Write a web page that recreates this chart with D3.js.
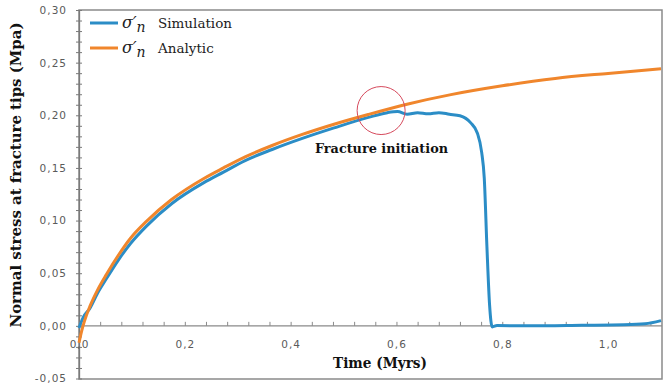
<!DOCTYPE html>
<html><head><meta charset="utf-8">
<script src="https://cdn.jsdelivr.net/npm/d3@7"></script>
<style>
html,body{margin:0;padding:0;background:#fff;}
svg{display:block;}
</style></head>
<body><svg id="c" width="670" height="385"></svg>
<script>
// ---- data ----
const analyticTime = [0, 0.005, 0.01, 0.021, 0.035, 0.052, 0.075, 0.097, 0.128, 0.175, 0.236, 0.273, 0.314, 0.365, 0.422, 0.482, 0.547, 0.62, 0.703, 0.8, 0.9, 1.0, 1.1];
const analyticStress = [-0.016, -0.005, 0.004, 0.019, 0.034, 0.049, 0.0675, 0.083, 0.0995, 0.12, 0.14, 0.15, 0.1605, 0.1713, 0.1818, 0.1915, 0.2008, 0.2105, 0.2196, 0.228, 0.235, 0.2398, 0.2442];
const simTime = [0, 0.008, 0.021, 0.035, 0.052, 0.075, 0.097, 0.128, 0.175, 0.236, 0.273, 0.314, 0.365, 0.422, 0.482, 0.547, 0.583, 0.602, 0.62, 0.64, 0.66, 0.68, 0.70, 0.72, 0.74, 0.753, 0.761, 0.766, 0.771, 0.776, 0.781, 0.79, 0.85, 0.95, 1.03, 1.07, 1.1];
const simStress = [-0.002, 0.008, 0.017, 0.031, 0.045, 0.063, 0.078, 0.095, 0.116, 0.136, 0.146, 0.157, 0.1675, 0.178, 0.188, 0.198, 0.2025, 0.2035, 0.201, 0.2025, 0.2015, 0.2025, 0.201, 0.1995, 0.193, 0.183, 0.165, 0.14, 0.075, 0.02, -0.001, 0.0003, 0.0, 0.0005, 0.001, 0.002, 0.005];
const xTicks = [0, 0.2, 0.4, 0.6, 0.8, 1.0];
const xTickLabels = ["0,0", "0,2", "0,4", "0,6", "0,8", "1,0"];
const xMinorTicks = [0.04,0.08,0.12,0.16,0.24,0.28,0.32,0.36,0.44,0.48,0.52,0.56,0.64,0.68,0.72,0.76,0.84,0.88,0.92,0.96,1.04,1.08];
const yTicks = [-0.05, 0, 0.05, 0.10, 0.15, 0.20, 0.25, 0.30];
const yTickLabels = ["-0,05", "0,00", "0,05", "0,10", "0,15", "0,20", "0,25", "0,30"];
const yMinorTicks = [-0.04,-0.03,-0.02,-0.01,0.01,0.02,0.03,0.04,0.06,0.07,0.08,0.09,0.11,0.12,0.13,0.14,0.16,0.17,0.18,0.19,0.21,0.22,0.23,0.24,0.26,0.27,0.28,0.29];
const seriesNames = ["Simulation", "Analytic"];
const annotation = "Fracture initiation";
const annotationPoint = [0.571, 0.2045];

// ---- layout ----
const svg = d3.select("#c");
const L = 79, R = 662, T = 10, B = 379;
const x = d3.scaleLinear().domain([0, 1.1]).range([L, 661]);
const y = d3.scaleLinear().domain([-0.05, 0.30]).range([378.5, 10]);
const blue = "#2b8dc6", orange = "#f0862c", grey = "#8a8a8a", labCol = "#5a5a5a";

// frame
svg.append("rect").attr("x", L).attr("y", T).attr("width", R - L).attr("height", B - T)
  .attr("fill", "none").attr("stroke", grey).attr("stroke-width", 1.5);

// y axis
const yLab = {}; yTicks.forEach((v, i) => yLab[v] = yTickLabels[i]);
const gy = svg.append("g").attr("transform", `translate(${L},0)`)
  .call(d3.axisLeft(y).tickValues(yTicks).tickSizeInner(3).tickSizeOuter(0).tickPadding(9).tickFormat(d => yLab[d]));
gy.select(".domain").attr("stroke", "#7a7a7a").attr("stroke-width", 1.3);
gy.selectAll(".tick line").attr("stroke", "#7a7a7a");
gy.selectAll(".tick text").attr("fill", labCol).style("font-family", "DejaVu Sans, sans-serif").style("font-size", "10.5px").style("letter-spacing", "1px");
const gyIn = svg.append("g").attr("transform", `translate(${L},0)`)
  .call(d3.axisLeft(y).tickValues(yTicks.concat(yMinorTicks)).tickSizeInner(-3).tickSizeOuter(0).tickFormat(""));
gyIn.select(".domain").remove();
gyIn.selectAll(".tick line").attr("stroke", "#7a7a7a");
const gyOut = svg.append("g").attr("transform", `translate(${L},0)`)
  .call(d3.axisLeft(y).tickValues(yMinorTicks).tickSizeInner(3).tickSizeOuter(0).tickFormat(""));
gyOut.select(".domain").remove();
gyOut.selectAll(".tick line").attr("stroke", "#7a7a7a");

// x axis at y=0
const xLab = {}; xTicks.forEach((v, i) => xLab[v] = xTickLabels[i]);
const gx = svg.append("g").attr("transform", `translate(0,${y(0)})`)
  .call(d3.axisBottom(x).tickValues(xTicks.concat(xMinorTicks)).tickSizeInner(-4).tickSizeOuter(0).tickPadding(15)
    .tickFormat(d => xLab[d] !== undefined ? xLab[d] : ""));
gx.select(".domain").attr("stroke", "#8a8a8a").attr("stroke-width", 1.2).attr("d", `M${L},0H${R}`);
gx.selectAll(".tick line").attr("stroke", "#8a8a8a");
gx.selectAll(".tick text").attr("fill", labCol).style("font-family", "DejaVu Sans, sans-serif").style("font-size", "10.5px").style("letter-spacing", "1px");

// lines
const line = d3.line().x(d => x(d[0])).y(d => y(d[1])).curve(d3.curveMonotoneX);
const aData = analyticTime.map((t, i) => [t, analyticStress[i]]);
const sData = simTime.map((t, i) => [t, simStress[i]]);
svg.append("path").datum(sData).attr("d", line).attr("fill", "none").attr("stroke", blue).attr("stroke-width", 3).attr("stroke-linejoin", "round");
svg.append("path").datum(aData).attr("d", line).attr("fill", "none").attr("stroke", orange).attr("stroke-width", 3).attr("stroke-linejoin", "round");

// annotation
svg.append("circle").attr("cx", x(annotationPoint[0])).attr("cy", y(annotationPoint[1])).attr("r", 24)
  .attr("fill", "none").attr("stroke", "#d6495c").attr("stroke-width", 1);
svg.append("text").attr("x", 315).attr("y", 153).text(annotation)
  .style("font-family", "DejaVu Serif, serif").style("font-weight", "bold").style("font-size", "13px").attr("fill", "#111")
  .attr("textLength", 133).attr("lengthAdjust", "spacingAndGlyphs");

// legend
const leg = svg.append("g");
[blue, orange].forEach((c, i) => {
  const yy = 23 + i * 25;
  leg.append("line").attr("x1", 90).attr("x2", 118).attr("y1", yy).attr("y2", yy).attr("stroke", c).attr("stroke-width", 3);
  const t = leg.append("text").attr("x", 122).attr("y", yy + 5).attr("fill", "#222")
    .style("font-family", "DejaVu Serif, serif").style("font-size", "14px");
  t.append("tspan").text("σ′").style("font-style", "italic").style("font-size", "16px");
  t.append("tspan").text("n").attr("dy", 4).style("font-style", "italic").style("font-size", "14px");
  t.append("tspan").text(seriesNames[i]).attr("x", 158).attr("dy", -4).style("font-size", "13.5px");
});

// axis titles
svg.append("text").attr("x", 380).attr("y", 368).attr("text-anchor", "middle").text("Time (Myrs)")
  .style("font-family", "DejaVu Serif, serif").style("font-weight", "bold").style("font-size", "14px").attr("fill", "#111")
  .attr("textLength", 94).attr("lengthAdjust", "spacingAndGlyphs");
svg.append("text").attr("transform", "translate(21,175) rotate(-90)").attr("text-anchor", "middle")
  .text("Normal stress at fracture tips (Mpa)")
  .style("font-family", "DejaVu Serif, serif").style("font-weight", "bold").style("font-size", "14px").attr("fill", "#111")
  .attr("textLength", 305).attr("lengthAdjust", "spacingAndGlyphs");
</script></body></html>
